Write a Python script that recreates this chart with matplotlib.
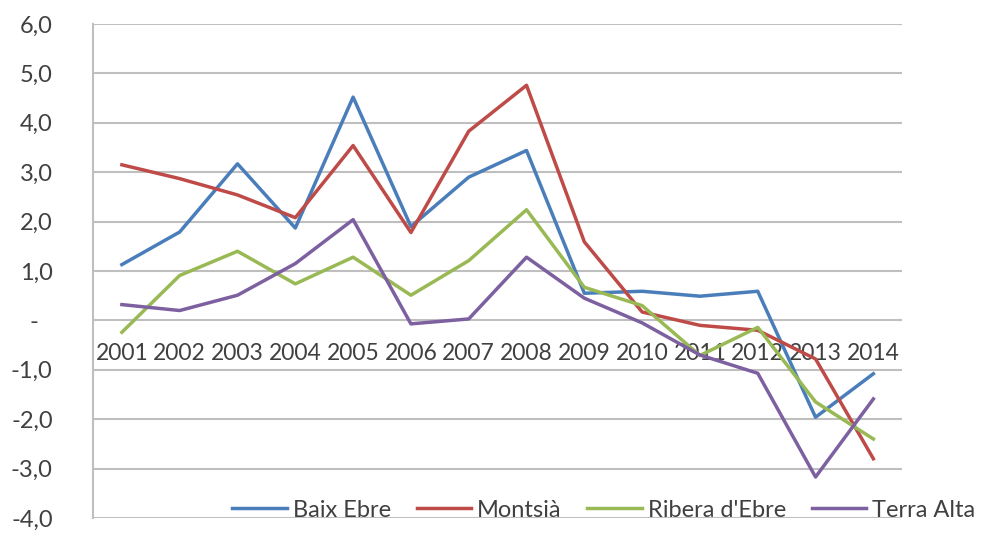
import matplotlib
matplotlib.use('Agg')
import matplotlib.pyplot as plt
import matplotlib.transforms as mtransforms

# ---- data ---------------------------------------------------------------
years = ['2001', '2002', '2003', '2004', '2005', '2006', '2007',
         '2008', '2009', '2010', '2011', '2012', '2013', '2014']

baix_ebre = [1.13, 1.79, 3.17, 1.87, 4.52, 1.90, 2.90,
             3.44, 0.55, 0.59, 0.49, 0.59, -1.96, -1.08]
montsia = [3.15, 2.87, 2.54, 2.08, 3.54, 1.78, 3.83,
           4.76, 1.59, 0.17, -0.10, -0.20, -0.78, -2.80]
ribera = [-0.24, 0.91, 1.40, 0.74, 1.28, 0.51, 1.21,
          2.24, 0.67, 0.30, -0.71, -0.14, -1.65, -2.40]
terra_alta = [0.32, 0.20, 0.51, 1.15, 2.04, -0.07, 0.03,
              1.28, 0.45, -0.05, -0.70, -1.07, -3.17, -1.59]

series = [
    ('Baix Ebre', baix_ebre, '#4A7EBB'),
    ('Montsià', montsia, '#BE4B48'),
    ("Ribera d'Ebre", ribera, '#98B954'),
    ('Terra Alta', terra_alta, '#7D60A0'),
]

y_ticks = [-4, -3, -2, -1, 0, 1, 2, 3, 4, 5, 6]
y_labels = ['-4,0', '-3,0', '-2,0', '-1,0', '-', '1,0', '2,0',
            '3,0', '4,0', '5,0', '6,0']

# ---- figure -------------------------------------------------------------
plt.rcParams['font.family'] = ['Lato', 'DejaVu Sans']
fig = plt.figure(figsize=(9.85, 5.41), dpi=100)
ax = fig.add_axes([0.0944, 0.0425, 0.8216, 0.9131])

x = list(range(len(years)))
for name, vals, col in series:
    ax.plot(x, vals, color=col, lw=2.5, label=name)

ax.set_xlim(-0.5, len(years) - 0.5)
ax.set_ylim(-4, 6)
ax.set_yticks(y_ticks)
ax.set_yticklabels(y_labels, fontsize=17, color='#404040')
ax.tick_params(axis='y', length=0, pad=29)
ax.grid(axis='y', color='#BFBFBF', lw=1.5)
ax.set_axisbelow(True)

# shift the "-" (zero) label left, like Excel's accounting format
for t in ax.get_yticklabels():
    if t.get_text() == '-':
        t.set_transform(t.get_transform() +
                        mtransforms.ScaledTranslation(-0.14, 0, fig.dpi_scale_trans))

# x labels sit on the zero line
ax.spines['bottom'].set_position(('data', 0))
ax.spines['bottom'].set_visible(False)
ax.set_xticks(x)
ax.set_xticklabels(years, fontsize=16.5, color='#404040')
ax.tick_params(axis='x', length=0, pad=16)

for s in ['top', 'right']:
    ax.spines[s].set_visible(False)
ax.spines['left'].set_color('#BFBFBF')
ax.spines['left'].set_linewidth(1.5)

ax.legend(loc='center right', bbox_to_anchor=(0.99, 0.0573),
          bbox_transform=fig.transFigure, ncol=4, frameon=False,
          fontsize=17, handlelength=2.3, handletextpad=0.25,
          columnspacing=1.1, borderpad=0, borderaxespad=0,
          labelcolor='#404040')

fig.savefig('out.png', dpi=100)
